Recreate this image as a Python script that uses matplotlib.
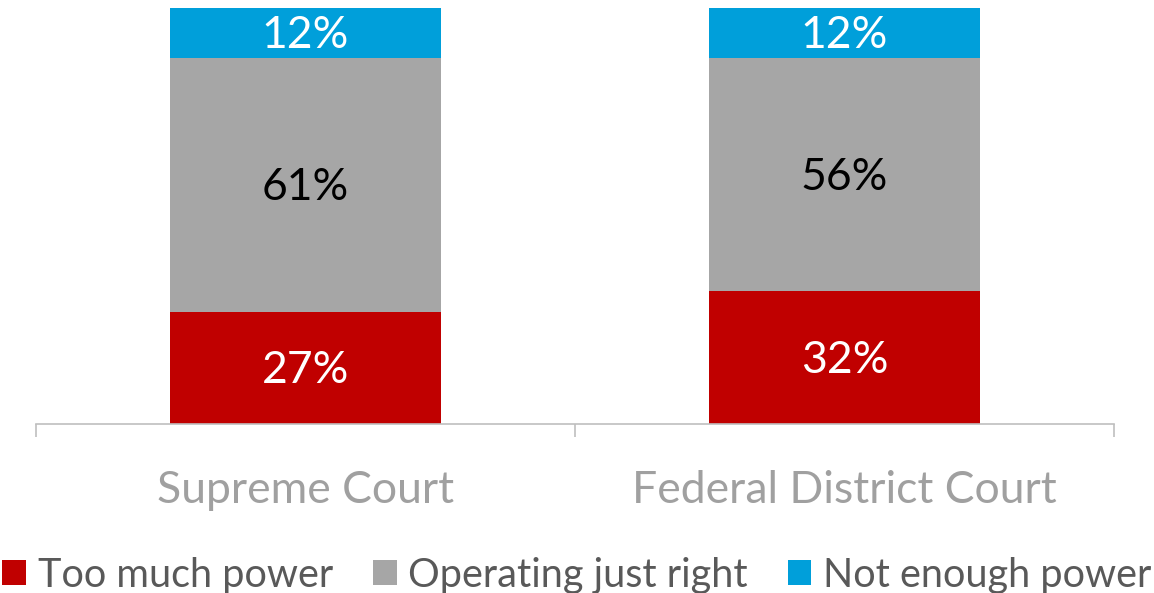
import numpy as np
import matplotlib
matplotlib.use('Agg')
import matplotlib.pyplot as plt
from matplotlib.patches import Patch

# data
courts = ['Supreme Court', 'Federal District Court']
too_much = [27, 32]
just_right = [61, 56]
not_enough = [12, 12]

series = ['Too much power', 'Operating just right', 'Not enough power']
colors = ['#C00000', '#A6A6A6', '#009FDA']
label_colors = ['white', 'black', 'white']

plt.rcParams['font.family'] = ['Lato', 'DejaVu Sans']

fig = plt.figure(figsize=(11.54, 5.93), dpi=100)
ax = fig.add_axes([0.0312, 0.285, 0.9341, 0.7015])

x = np.arange(len(courts))
bottom = np.zeros(len(courts))
for vals, col, lc in zip([too_much, just_right, not_enough], colors, label_colors):
    bars = ax.bar(x, vals, width=0.503, bottom=bottom, color=col)
    for b, v, y0 in zip(bars, vals, bottom):
        ax.annotate(f'{v}%', (b.get_x() + b.get_width() / 2, y0 + v / 2),
                    xytext=(0, -2), textcoords='offset points',
                    ha='center', va='center', color=lc, fontsize=32)
    bottom += vals

ax.set_xlim(-0.5, 1.5)
ax.set_ylim(0, 100)
ax.set_yticks([])
for s in ['top', 'right', 'left']:
    ax.spines[s].set_visible(False)
ax.spines['bottom'].set_color('#BFBFBF')
ax.spines['bottom'].set_linewidth(1.2)

ax.set_xticks(x)
ax.set_xticklabels(courts, fontsize=32, color='#A0A0A0')
ax.tick_params(axis='x', which='major', length=0, pad=33)
ax.set_xticks([-0.5, 0.5, 1.5], minor=True)
ax.tick_params(axis='x', which='minor', length=9.5, width=1.2, color='#BFBFBF')

handles = [Patch(facecolor=c, label=s) for c, s in zip(colors, series)]
fig.legend(handles=handles, loc='center', bbox_to_anchor=(0.5, 0.03), ncol=3,
           frameon=False, fontsize=28.5, labelcolor='#595959',
           handlelength=0.6, handleheight=0.6, handletextpad=0.3,
           columnspacing=1.0, borderaxespad=0)

fig.savefig('out.png', dpi=100)
